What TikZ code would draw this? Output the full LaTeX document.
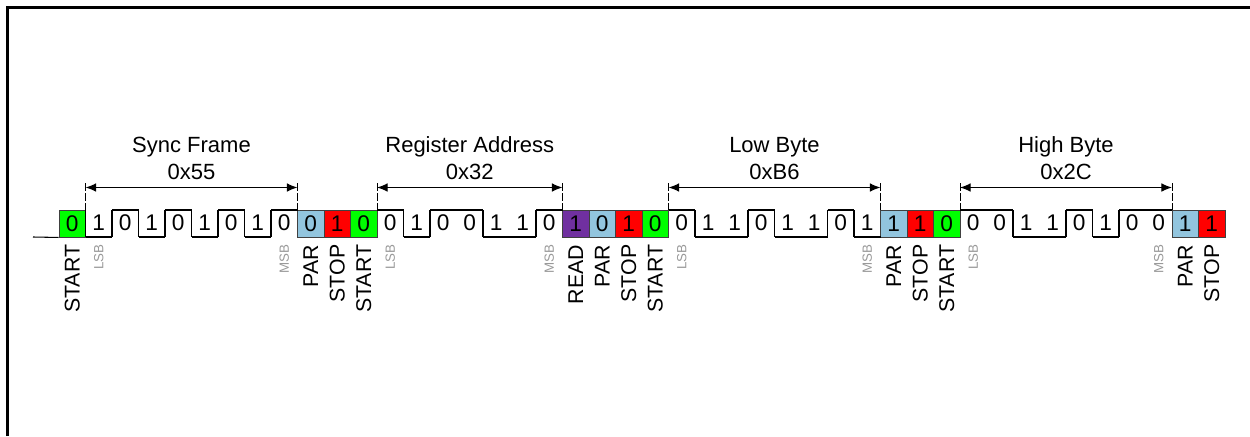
\documentclass[tikz,border=0pt]{standalone}
\usepackage{fontspec}
\setmainfont{Liberation Sans}
\usetikzlibrary{arrows.meta,calc}
\definecolor{startgreen}{RGB}{0,255,0}
\definecolor{parblue}{RGB}{146,197,222}
\definecolor{stopred}{RGB}{255,0,0}
\definecolor{readpurple}{RGB}{112,48,160}
\begin{document}
\begin{tikzpicture}[x=0.75pt,y=-0.75pt,
  cellbox/.style={draw=black!75, line width=0.7pt, inner sep=0pt,
    minimum width=19.875pt, minimum height=20.25pt,
    font=\fontsize{17}{17}\selectfont},
  bitlabel/.style={inner sep=0pt, font=\fontsize{17}{17}\selectfont},
  vlabel/.style={rotate=90, anchor=east, inner sep=0pt,
    font=\fontsize{16}{16}\selectfont},
  sblabel/.style={rotate=90, anchor=east, inner sep=0pt, text=black!40,
    font=\fontsize{10}{10}\selectfont},
  wave/.style={line width=0.8pt, line join=miter},
  marker/.style={line width=0.7pt, dash pattern=on 6pt off 1.5pt},
  dim/.style={line width=0.8pt, {Latex[length=8pt,width=6.5pt]}-{Latex[length=8pt,width=6.5pt]}},
  hdr/.style={inner sep=0pt, font=\fontsize{16.5}{16.5}\selectfont},
  framebox/.style={line width=1.9pt}]
\useasboundingbox (0,0) rectangle (1250,436);
% outer frame (cropped)
\coordinate (fbl) at (7.5,436);
\coordinate (ftl) at (7.5,7.5);
\coordinate (ftr) at (1250,7.5);
\draw[framebox] (fbl) -- (ftl) -- (ftr);
% coloured cells
\foreach \i/\b/\c/\t in {0/0/startgreen/START, 9/0/parblue/PAR, 10/1/stopred/STOP,
  11/0/startgreen/START, 19/1/readpurple/READ, 20/0/parblue/PAR, 21/1/stopred/STOP,
  22/0/startgreen/START, 31/1/parblue/PAR, 32/1/stopred/STOP,
  33/0/startgreen/START, 42/1/parblue/PAR, 43/1/stopred/STOP}{
  \pgfmathsetmacro\cx{72.25+26.5*\i}
  \node[cellbox, fill=\c] (c\i) at (\cx,223.5) {\b};
  \node[vlabel] (l\i) at ([yshift=-5.25pt]c\i.south) {\t};
}
% idle line
\coordinate (idle) at (33,237);
\draw[wave] (idle) -- (c0.south west);
% data bits
\foreach \s/\n/\bits in {1/8/{1,0,1,0,1,0,1,0}, 12/7/{0,1,0,0,1,1,0},
  23/8/{0,1,1,0,1,1,0,1}, 34/8/{0,0,1,1,0,1,0,0}}{
  \foreach \b [count=\k from 0, remember=\b as \p (initially 0)] in \bits {
    \pgfmathsetmacro\xl{59+26.5*(\s+\k)}
    \pgfmathsetmacro\xr{\xl+26.5}
    \pgfmathsetmacro\yl{ifthenelse(\b==0,210,237)}
    \draw[wave] (\xl,\yl) -- (\xr,\yl);
    \ifnum\b=\p\relax\else\draw[wave] (\xl,210) -- (\xl,237);\fi
    \node[bitlabel] (d\s-\k) at ({\xl+13.25},222.5) {\b};
  }
  \pgfmathsetmacro\xa{59+26.5*\s}
  \pgfmathsetmacro\xb{59+26.5*(\s+\n)}
  \node[sblabel] (lsb\s) at ({\xa+13.25},244) {LSB};
  \node[sblabel] (msb\s) at ({\xb-13.25},244) {MSB};
  \coordinate (ta\s) at (\xa,183);
  \coordinate (ba\s) at (\xa,210);
  \coordinate (tb\s) at (\xb,183);
  \coordinate (bb\s) at (\xb,210);
  \coordinate (a\s) at (\xa,187.5);
  \coordinate (b\s) at (\xb,187.5);
  \draw[marker] (ta\s) -- (ba\s);
  \draw[marker] (tb\s) -- (bb\s);
  \draw[dim] (a\s) -- (b\s);
}
% headers
\foreach \s/\ta/\tb in {1/Sync Frame/0x55, 12/Register Address/0x32,
  23/Low Byte/0xB6, 34/High Byte/0x2C}{
  \node[hdr] (ha\s) at ($(a\s)!0.5!(b\s)+(0,-40.5)$) {\ta};
  \node[hdr] (hb\s) at ($(a\s)!0.5!(b\s)+(0,-15.5)$) {\tb};
}
\end{tikzpicture}
\end{document}
